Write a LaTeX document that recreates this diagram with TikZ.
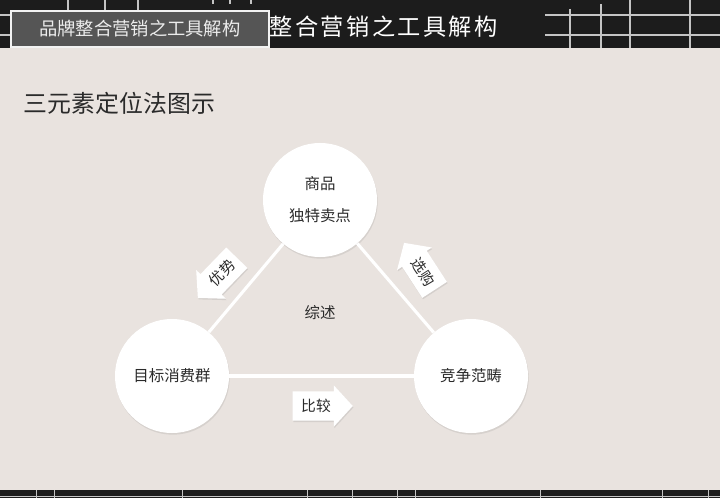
\documentclass[tikz,border=0pt]{standalone}
\usepackage{fontspec}
\setmainfont{Noto Sans CJK SC}
\newfontfamily\titlefont[LetterSpace=10]{Noto Sans CJK SC}
\usetikzlibrary{shapes.arrows,shadows}
\definecolor{paper}{HTML}{E9E3DF}
\definecolor{barblack}{HTML}{1C1C1C}
\definecolor{gridgray}{HTML}{C4C4C4}
\definecolor{boxgray}{HTML}{555555}
\definecolor{inktext}{HTML}{2A2A2A}

\begin{document}
\begin{tikzpicture}[x=0.025cm,y=-0.025cm,
    elem/.style={circle,fill=white,minimum size=2.85cm,inner sep=0pt,text=inktext,font=\fontsize{11}{13}\selectfont,
        drop shadow={shadow xshift=0.5pt,shadow yshift=-1.2pt,opacity=0.18}},
    link/.style={draw=white,line width=2.2pt},
    hint/.style={single arrow,fill=white,minimum height=1.5cm,single arrow head extend=0.15cm,
        single arrow tip angle=95,inner xsep=2pt,inner ysep=0.19cm,text=inktext,font=\fontsize{10.5}{12}\selectfont,
        drop shadow={shadow xshift=0.5pt,shadow yshift=-1pt,opacity=0.2}},
    grid/.style={draw=gridgray,line width=1pt}]
    \useasboundingbox (0,0) rectangle (720,498);
    \fill[paper] (0,0) rectangle (720,498);

    % header bar
    \fill[barblack] (0,0) rectangle (720,48);
    \foreach \x in {68,105} \draw[grid] (\x,0) -- (\x,48);
    \draw[grid] (138,0) -- (138,10);
    \foreach \x in {213,230,251} \draw[grid] (\x,0) -- (\x,4);
    \foreach \y in {15,35} {
        \draw[grid] (0,\y) -- (10,\y);
        \draw[grid] (545,\y) -- (720,\y);
    }
    \draw[grid] (570,9) -- (570,48);
    \draw[grid] (601,4) -- (601,48);
    \foreach \x in {630,690} \draw[grid] (\x,0) -- (\x,48);
    \node[anchor=west,text=white,font=\titlefont\fontsize{16.5}{18}\selectfont] (title) at (265,27) {整合营销之工具解构};
    \node[draw=white!90!gray,line width=1.2pt,fill=boxgray,anchor=north west,minimum width=6.45cm,minimum height=0.9cm,
        text=white!85!gray,font=\fontsize{13}{15}\selectfont] (tag) at (10,10) {品牌整合营销之工具解构};

    % footer bar
    \fill[barblack] (0,490) rectangle (720,498);
    \draw[grid,line width=0.5pt] (0,496) -- (720,496);
    \foreach \x in {36,54,182,307,352,397,415,540,662,708} \draw[grid,line width=0.6pt] (\x,490) -- (\x,498);

    \node[anchor=west,text=inktext,font=\fontsize{17}{20}\selectfont] (subtitle) at (19,103) {三元素定位法图示};

    % three elements
    \node[elem,font=\fontsize{11}{22.8}\selectfont,align=center] (goods) at (320,200) {商品\\独特卖点};
    \node[elem] (target) at (172,376) {目标消费群};
    \node[elem] (rival) at (471,376) {竞争范畴};
    \node[text=inktext,font=\fontsize{11}{13}\selectfont] (summary) at (320,313) {综述};

    \path[link]
        (goods) edge (target)
        (goods) edge (rival)
        (target) edge (rival)
        ;

    \node[hint,minimum height=1.4cm,rotate=46,shape border rotate=180] (merit) at (222,273) {优势};
    \node[hint,minimum height=1.4cm,rotate=-57,shape border rotate=180] (choose) at (423,272) {选购};
    \node[hint] (compare) at (316,406) {比较};
\end{tikzpicture}
\end{document}
